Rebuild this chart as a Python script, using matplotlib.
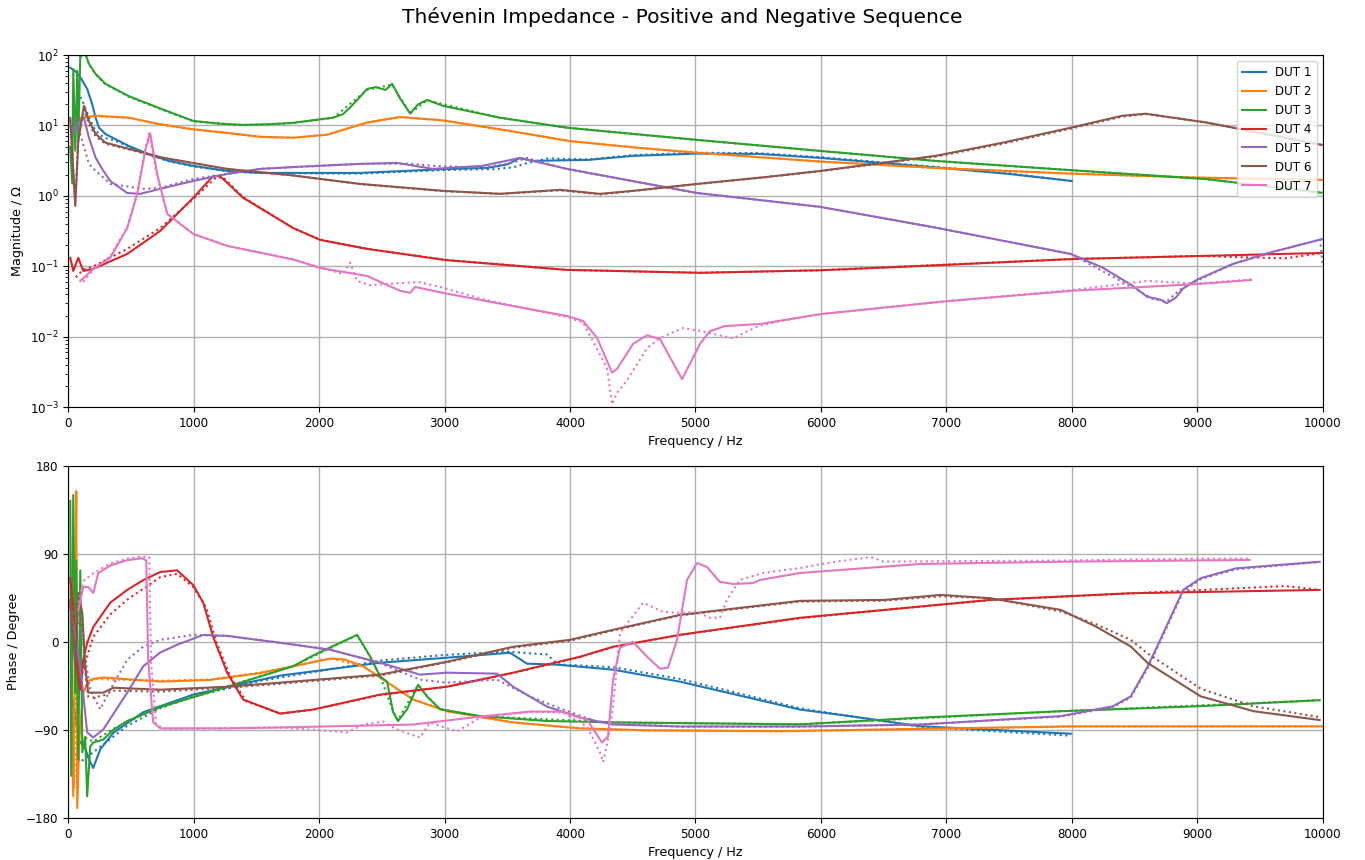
import matplotlib
matplotlib.use("Agg")
import matplotlib.pyplot as plt
from matplotlib.ticker import LogLocator

# Magnitude (Ohm) vs frequency (Hz), positive sequence (solid) / negative sequence (dotted)
mag_pos_dut1 = [(16, 66), (56, 59), (98, 48), (151, 33), (191, 20), (218, 12.9), (245, 9.3), (295, 7.6),
                (375, 6.4), (484, 5.1), (643, 3.9), (802, 3.14), (996, 2.67), (1267, 2.26), (1530, 2.12),
                (2330, 2.12), (3000, 2.4), (3340, 2.5), (3500, 2.8), (3600, 3.45), (3700, 3.14), (4150, 3.25),
                (4500, 3.7), (5000, 3.98), (5500, 3.95), (6000, 3.46), (6900, 2.55), (7500, 2.05), (8000, 1.63)]
mag_neg_dut1 = [(30, 25), (85, 28), (125, 20), (165, 13), (218, 8.4), (284, 6.7), (375, 6.1), (484, 5.0),
                (643, 3.85), (802, 3.1), (996, 2.62), (1267, 2.24), (1530, 2.1), (2330, 2.07), (3000, 2.33),
                (3400, 2.4), (3550, 2.55), (3650, 2.9), (3820, 3.4), (4150, 3.3), (4500, 3.8), (5000, 4.1),
                (5500, 4.05), (6000, 3.55), (6900, 2.6), (7500, 2.1), (8000, 1.62)]

mag_pos_dut2 = [(40, 12), (112, 12.9), (218, 13.7), (484, 12.9), (733, 10.4), (1000, 8.8), (1267, 7.85),
                (1530, 6.9), (1793, 6.7), (2064, 7.4), (2382, 11.0), (2645, 13.2), (2988, 11.8), (3500, 8.5),
                (4000, 6.0), (4500, 4.9), (5012, 4.1), (6000, 3.07), (6900, 2.5), (8000, 2.07), (9000, 1.82),
                (10000, 1.69)]
mag_neg_dut2 = [(40, 11.8), (112, 12.8), (218, 13.6), (484, 12.8), (733, 10.3), (1000, 8.8), (1267, 7.8),
                (1530, 6.9), (1793, 6.7), (2064, 7.4), (2382, 11.0), (2645, 13.1), (2988, 11.8), (3500, 8.4),
                (4000, 6.0), (4500, 4.9), (5012, 4.1), (6000, 3.08), (6900, 2.5), (8000, 2.07), (9000, 1.82),
                (10000, 1.69)]

mag_pos_dut3 = [(16, 5), (32, 1.5), (40, 63), (56, 4.4), (72, 60), (80, 6), (96, 100), (104, 110), (120, 100),
                (140, 100), (165, 75), (218, 54), (297, 39), (484, 26), (749, 17), (996, 11.6), (1200, 10.6),
                (1394, 10.2), (1600, 10.4), (1793, 10.9), (2000, 12.2), (2111, 12.9), (2191, 14.5), (2247, 18),
                (2330, 26), (2382, 33), (2450, 35), (2530, 32), (2582, 39), (2640, 25), (2725, 14.8), (2790, 20),
                (2861, 23), (2988, 19), (3442, 12.9), (3976, 9.3), (5012, 6.25), (5992, 4.36), (6913, 3.14),
                (7992, 2.32), (9075, 1.73), (9992, 1.11)]
mag_neg_dut3 = [(96, 95), (140, 98), (165, 74), (218, 53), (297, 38.5), (484, 25.5), (749, 16.8), (996, 11.5),
                (1394, 10.1), (1793, 10.8), (2111, 12.8), (2382, 32), (2582, 38), (2725, 14.9), (2861, 22.8),
                (3442, 12.8), (3976, 9.3), (5012, 6.2), (5992, 4.35), (6913, 3.14), (7992, 2.32), (9075, 1.73),
                (9992, 1.11)]

mag_pos_dut4 = [(16, 0.132), (40, 0.086), (80, 0.132), (120, 0.086), (199, 0.092), (470, 0.15), (733, 0.318),
                (996, 0.94), (1155, 1.92), (1211, 1.9), (1394, 0.94), (1793, 0.35), (2008, 0.237), (2382, 0.177),
                (3004, 0.123), (3976, 0.089), (5036, 0.081), (6000, 0.088), (7000, 0.105), (8000, 0.127),
                (9000, 0.14), (10000, 0.155)]
mag_neg_dut4 = [(60, 0.07), (120, 0.09), (199, 0.1), (470, 0.177), (733, 0.35), (996, 0.9), (1180, 1.85),
                (1240, 1.8), (1394, 0.96), (1793, 0.35), (2008, 0.24), (2382, 0.178), (3004, 0.124), (3976, 0.089),
                (5036, 0.081), (6000, 0.088), (7000, 0.106), (8000, 0.127), (9000, 0.14), (9700, 0.13),
                (10000, 0.155)]

mag_pos_dut5 = [(40, 8), (80, 11), (125, 12.9), (165, 6.7), (218, 3.5), (271, 2.4), (335, 1.63), (470, 1.1),
                (574, 1.07), (733, 1.26), (996, 1.63), (1267, 2.05), (1530, 2.42), (1849, 2.6), (2327, 2.85),
                (2621, 2.94), (2908, 2.42), (3300, 2.67), (3600, 3.46), (3976, 2.42), (5012, 1.1), (5992, 0.70),
                (6913, 0.355), (7992, 0.15), (8250, 0.095), (8486, 0.053), (8600, 0.037), (8700, 0.034),
                (8757, 0.030), (8830, 0.036), (8884, 0.048), (9000, 0.065), (9283, 0.108), (9600, 0.16),
                (10000, 0.245)]
mag_neg_dut5 = [(40, 9), (58, 12.9), (112, 6), (165, 2.85), (205, 2.4), (335, 1.48), (598, 1.26), (733, 1.3),
                (996, 1.74), (1530, 2.42), (2327, 2.85), (2725, 2.87), (2908, 2.67), (3307, 2.52), (3546, 2.97),
                (3657, 3.46), (3976, 2.4), (5012, 1.1), (5992, 0.70), (6913, 0.355), (7992, 0.15), (8486, 0.05),
                (8650, 0.034), (8757, 0.032), (8884, 0.05), (9283, 0.108), (9600, 0.16), (9980, 0.24),
                (10000, 0.1)]

mag_pos_dut6 = [(16, 12.8), (56, 0.72), (80, 6), (125, 19), (165, 11.6), (218, 7.6), (297, 5.7), (484, 4.65),
                (749, 3.5), (1267, 2.42), (1793, 1.95), (2327, 1.48), (2988, 1.18), (3442, 1.07), (3920, 1.22),
                (4239, 1.07), (4502, 1.18), (5012, 1.48), (5570, 1.86), (5992, 2.26), (6913, 3.7), (7450, 5.7),
                (7992, 9.3), (8398, 13.7), (8590, 14.7), (9075, 11), (9992, 5.3)]
mag_neg_dut6 = [(16, 12), (56, 0.8), (80, 6.5), (125, 17), (165, 10.5), (218, 7.0), (297, 5.5), (484, 4.55),
                (749, 3.45), (1267, 2.4), (1793, 1.95), (2327, 1.47), (2988, 1.17), (3442, 1.07), (3920, 1.2),
                (4239, 1.05), (4502, 1.17), (5012, 1.47), (5570, 1.85), (5992, 2.24), (6913, 3.6), (7450, 5.5),
                (7992, 9.0), (8398, 13.3), (8590, 14.5), (9075, 11), (9992, 5.3)]

mag_pos_dut7 = [(96, 0.062), (199, 0.092), (335, 0.132), (470, 0.35), (550, 1.07), (614, 4.4), (653, 7.8),
                (709, 2.05), (789, 0.555), (996, 0.288), (1267, 0.195), (1793, 0.125), (2008, 0.095),
                (2382, 0.073), (2645, 0.045), (2725, 0.042), (2765, 0.051), (2988, 0.042), (3339, 0.032),
                (3976, 0.0197), (4104, 0.0168), (4215, 0.0097), (4335, 0.0031), (4375, 0.0035), (4502, 0.0079),
                (4614, 0.0105), (4717, 0.0093), (4893, 0.0025), (5036, 0.0079), (5115, 0.012), (5235, 0.0142),
                (5514, 0.0152), (6000, 0.021), (7000, 0.032), (8000, 0.045), (9000, 0.056), (9430, 0.064)]
mag_neg_dut7 = [(120, 0.06), (199, 0.09), (335, 0.14), (470, 0.36), (550, 1.1), (614, 4.6), (645, 8.0),
                (700, 2.2), (789, 0.56), (996, 0.29), (1267, 0.196), (1793, 0.126), (2008, 0.096), (2191, 0.078),
                (2247, 0.113), (2303, 0.062), (2406, 0.054), (2789, 0.06), (2964, 0.051), (3339, 0.033),
                (3976, 0.019), (4104, 0.016), (4295, 0.0036), (4335, 0.0011), (4375, 0.0016), (4454, 0.0024),
                (4614, 0.0069), (4717, 0.0096), (4900, 0.0133), (5036, 0.0121), (5299, 0.0095), (5500, 0.0142),
                (5700, 0.017), (6000, 0.021), (7000, 0.032), (8000, 0.046), (8600, 0.062), (9000, 0.057),
                (9430, 0.065)]

# Phase (degree) vs frequency (Hz)
ph_pos_dut1 = [(40, -60), (80, -100), (135, -109), (175, -123), (199, -129), (255, -110), (359, -93),
               (598, -72), (996, -54), (1530, -39), (1689, -34.6), (2486, -21.4), (3020, -16.3), (3522, -11.2),
               (3657, -22.4), (3896, -23.4), (4343, -28.5), (4877, -40.8), (5833, -69.3), (6231, -76),
               (6789, -86.3), (7992, -94)]
ph_neg_dut1 = [(40, -110), (96, -123), (199, -113), (470, -86), (733, -68), (996, -56), (1530, -40),
               (2000, -30), (2500, -19), (3000, -13.5), (3500, -10), (3700, -12), (3817, -13), (3900, -23),
               (4343, -26), (4877, -38), (5833, -68), (6231, -76), (6789, -87), (7992, -96)]

ph_pos_dut2 = [(20, -30), (40, -158), (56, 40), (64, 154), (72, -170), (88, -100), (120, -52), (160, -40),
               (199, -38), (279, -36.5), (733, -40.7), (1131, -39), (1530, -32), (2088, -17.3), (2200, -18),
               (2351, -25), (2749, -59), (3020, -71), (3546, -82.4), (4080, -88.5), (4614, -90.5),
               (5673, -91.4), (8000, -86.5), (10000, -86.4)]
ph_neg_dut2 = [(30, -60), (48, -150), (60, 100), (68, -140), (90, -95), (120, -50), (199, -38), (733, -40),
               (1131, -38.5), (1530, -31.5), (2088, -17), (2351, -25), (2749, -59), (3020, -71), (3546, -82.6),
               (4080, -88.6), (4614, -90.6), (5673, -91.5), (8000, -86.6), (10000, -86.5)]

ph_pos_dut3 = [(16, 144), (24, -137), (40, 150), (56, -52), (64, 83), (80, -120), (96, 73), (112, -113),
               (135, -97), (151, -158), (175, -107), (199, -103), (279, -100), (359, -90), (470, -81),
               (733, -67), (1267, -46), (1793, -25), (1952, -14), (2167, -1), (2303, 7), (2406, -15),
               (2486, -35.5), (2542, -41), (2590, -72), (2629, -81), (2701, -69), (2789, -44), (2861, -56),
               (2964, -69), (3283, -76), (3817, -81), (4343, -82.4), (5833, -84.4), (6789, -77.6),
               (7912, -71), (9028, -65.8), (9976, -59.7)]
ph_neg_dut3 = [(135, -98), (199, -102), (359, -89), (733, -66), (1267, -45.5), (1793, -25), (2167, -1.5),
               (2303, 6.5), (2406, -15), (2486, -35), (2590, -71), (2629, -80), (2789, -44), (2861, -55.5),
               (2964, -69), (3283, -76), (4343, -82.4), (5833, -84.4), (7912, -71), (9976, -59.8)]

ph_pos_dut4 = [(16, 65), (40, 32.5), (72, -31.6), (96, -49), (120, -18.4), (151, -1), (199, 15), (335, 40),
               (470, 53), (598, 63), (733, 71.3), (869, 73), (996, 58), (1076, 40), (1155, 5), (1267, -31.6),
               (1394, -59), (1689, -73.4), (1952, -69.3), (2486, -54), (3020, -45.9), (3546, -31.6),
               (4080, -15.3), (4343, -5.1), (4877, 7.1), (5833, 24.5), (6510, 32.6), (7350, 42.8),
               (8470, 49.6), (9976, 53)]
ph_neg_dut4 = [(40, 25), (96, -40), (151, -15), (199, 5), (335, 28), (470, 43), (733, 66), (869, 69.5),
               (996, 56), (1100, 35), (1180, 0), (1290, -35), (1420, -61), (1689, -73.4), (1952, -69.5),
               (2486, -54.5), (3020, -46), (3546, -32), (4080, -15.5), (4343, -5.5), (4877, 7), (5833, 24),
               (6510, 32.5), (7350, 42.5), (8470, 49.5), (9700, 57), (9976, 53)]

ph_pos_dut5 = [(16, 35.6), (96, -25.5), (151, -92.7), (199, -97.8), (279, -89.7), (470, -52), (598, -25),
               (733, -11), (869, -3), (1076, 7), (1267, 6), (1689, -1), (2088, -8.2), (2486, -21.4),
               (2805, -33.6), (3020, -31.6), (3418, -32.6), (3546, -45.9), (3817, -66.3), (4080, -77.5),
               (4343, -84.6), (4877, -86.6), (5833, -86.6), (6789, -84.6), (7912, -76), (8327, -66),
               (8470, -55.8), (8605, -25.2), (8693, -1.3), (8888, 53), (9028, 65), (9307, 75), (9976, 81.8)]
ph_neg_dut5 = [(16, 35), (96, 15), (175, -49), (255, -69), (335, -49), (470, -18.4), (598, -5), (733, 2),
               (996, 7), (1267, 6), (1689, -1), (2088, -8), (2486, -22), (2805, -38.7), (3020, -41.8),
               (3418, -38.7), (3681, -56), (3944, -69.3), (4215, -81.5), (4877, -86.8), (5833, -86.8),
               (6789, -84.6), (7912, -76.5), (8327, -67), (8470, -57), (8605, -27), (8693, -3), (8888, 51),
               (9028, 64), (9307, 74), (9976, 81.5)]

ph_pos_dut6 = [(16, 42.7), (56, -25), (80, 49.8), (112, 29.5), (135, -25), (159, -52), (199, -52),
               (279, -52), (359, -47), (733, -49), (1267, -46), (1689, -41.8), (2486, -33.6), (3020, -20.4),
               (3546, -5.1), (4000, 2), (4343, 12.2), (4877, 27.5), (5833, 41.8), (6510, 42.8), (6956, 47.9),
               (7350, 44.5), (7912, 32.6), (8191, 15.6), (8470, -4.8), (8605, -21.7), (9028, -55.8),
               (9450, -71), (9976, -80)]
ph_neg_dut6 = [(16, 40), (56, -20), (80, 45), (112, 25), (135, -30), (159, -56), (199, -57), (279, -55),
               (359, -50), (733, -51), (1267, -47), (1689, -43), (2486, -34.5), (3020, -21), (3546, -6),
               (4000, 1), (4343, 11.5), (4877, 27), (5833, 41), (6510, 42), (6956, 46.5), (7350, 44.5),
               (7912, 31), (8191, 18), (8470, 2), (8605, -12), (9028, -48), (9450, -66), (9976, -77)]

ph_pos_dut7 = [(80, 32.5), (120, 56), (159, 56), (199, 49.8), (239, 70), (335, 78), (470, 83.4), (590, 85.4),
               (622, 83), (637, -18.4), (677, -82.4), (733, -88.5), (1267, -88.5), (1689, -87.6),
               (2749, -84.6), (3283, -76.5), (3681, -71.4), (3944, -71.4), (4135, -79.5), (4255, -103),
               (4303, -96.8), (4343, -38.7), (4398, -6.1), (4502, 0), (4614, -15.3), (4717, -27.5),
               (4781, -26.5), (4853, 2), (4933, 63.2), (5012, 80.5), (5092, 76.4), (5195, 61.2), (5299, 59.1),
               (5458, 60), (5514, 63.2), (5833, 70.3), (6789, 79.5), (7912, 81.8), (9418, 83.6)]
ph_neg_dut7 = [(80, 40), (120, 62), (199, 70), (335, 80), (470, 85), (590, 87), (645, 86.6), (660, -20),
               (700, -84), (760, -89), (1267, -88.5), (1689, -87.5), (2143, -91.7), (2223, -92.7),
               (2351, -84.6), (2510, -81.5), (2621, -89.7), (2805, -98), (2884, -82.5), (3099, -91.7),
               (3283, -77.5), (3681, -71.4), (3944, -72.4), (4135, -86.6), (4239, -113), (4263, -123),
               (4303, -100), (4343, -66), (4398, 9), (4582, 39.8), (4741, 30.6), (4877, 29.6), (5012, 30.6),
               (5115, 24.5), (5195, 24.5), (5250, 42.8), (5354, 63.2), (5538, 70.3), (5833, 75.4),
               (6096, 81.5), (6398, 86.6), (6500, 82), (7912, 83), (9000, 85), (9418, 85)]

labels = ["DUT 1", "DUT 2", "DUT 3", "DUT 4", "DUT 5", "DUT 6", "DUT 7"]
colors = ["#1f77b4", "#ff7f0e", "#2ca02c", "#d62728", "#9467bd", "#8c564b", "#e377c2"]

mag_pos = [mag_pos_dut1, mag_pos_dut2, mag_pos_dut3, mag_pos_dut4, mag_pos_dut5, mag_pos_dut6, mag_pos_dut7]
mag_neg = [mag_neg_dut1, mag_neg_dut2, mag_neg_dut3, mag_neg_dut4, mag_neg_dut5, mag_neg_dut6, mag_neg_dut7]
ph_pos = [ph_pos_dut1, ph_pos_dut2, ph_pos_dut3, ph_pos_dut4, ph_pos_dut5, ph_pos_dut6, ph_pos_dut7]
ph_neg = [ph_neg_dut1, ph_neg_dut2, ph_neg_dut3, ph_neg_dut4, ph_neg_dut5, ph_neg_dut6, ph_neg_dut7]


def xy(pairs):
    return [p[0] for p in pairs], [p[1] for p in pairs]


fig, (ax1, ax2) = plt.subplots(2, 1, figsize=(13.65, 8.6), dpi=100)
fig.subplots_adjust(left=0.05, right=0.969, top=0.936, bottom=0.049, hspace=0.166)
fig.suptitle("Thévenin Impedance - Positive and Negative Sequence", fontsize=14.6, y=0.992)

for i in range(7):
    f, v = xy(mag_pos[i])
    ax1.plot(f, v, color=colors[i], lw=1.5, label=labels[i])
    f, v = xy(mag_neg[i])
    ax1.plot(f, v, color=colors[i], lw=1.5, ls=":")
    f, v = xy(ph_pos[i])
    ax2.plot(f, v, color=colors[i], lw=1.5)
    f, v = xy(ph_neg[i])
    ax2.plot(f, v, color=colors[i], lw=1.5, ls=":")

ax1.set_yscale("log")
ax1.set_ylim(1e-3, 1e2)
ax1.yaxis.set_major_locator(LogLocator(base=10, numticks=10))
ax1.yaxis.set_minor_locator(LogLocator(base=10, subs=range(2, 10), numticks=20))
ax1.set_ylabel("Magnitude / Ω", fontsize=9.2)
ax1.legend(loc="upper right", fontsize=8.6)

ax2.set_ylim(-180, 180)
ax2.set_yticks([-180, -90, 0, 90, 180])
ax2.set_ylabel("Phase / Degree", fontsize=9.2)

for ax in (ax1, ax2):
    ax.set_xlim(0, 10000)
    ax.set_xticks(range(0, 10001, 1000))
    ax.set_xlabel("Frequency / Hz", fontsize=9.2)
    ax.tick_params(labelsize=8.6)
    ax.grid(True, which="major", color="#b0b0b0", lw=1)

fig.savefig("out.png", dpi=100)
